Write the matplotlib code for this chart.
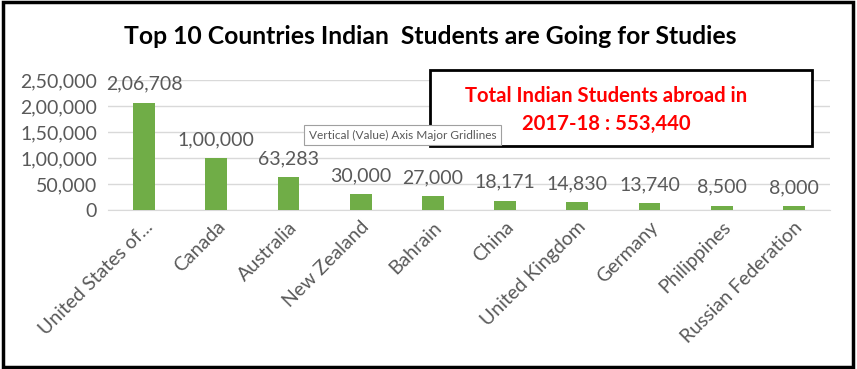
import matplotlib.pyplot as plt
from matplotlib.patches import Rectangle

# data
countries = ["United States of...", "Canada", "Australia", "New Zealand", "Bahrain",
             "China", "United Kingdom", "Germany", "Philippines", "Russian Federation"]
students = [206708, 100000, 63283, 30000, 27000, 18171, 14830, 13740, 8500, 8000]
yticks = [0, 50000, 100000, 150000, 200000, 250000]
total_text = "Total Indian Students abroad in\n2017-18 : 553,440"


def indian_fmt(n):
    # Indian digit grouping: 2,06,708
    s = str(int(n))
    if len(s) <= 3:
        return s
    head, tail = s[:-3], s[-3:]
    groups = []
    while len(head) > 2:
        groups.insert(0, head[-2:])
        head = head[:-2]
    if head:
        groups.insert(0, head)
    return ",".join(groups + [tail])


plt.rcParams['font.family'] = ['Lato', 'DejaVu Sans']
grey = '#595959'

fig = plt.figure(figsize=(8.57, 3.69), dpi=100)
ax = fig.add_axes([0.126, 0.4309, 0.8425, 0.3523])

x = range(len(countries))
ax.bar(x, students, width=0.3, color='#70ad47', zorder=3)
for xi, v in zip(x, students):
    ax.annotate(indian_fmt(v), (xi, v), xytext=(0, 7), textcoords='offset points',
                ha='center', va='bottom', fontsize=14, color=grey)

ax.set_xlim(-0.5, len(countries) - 0.5)
ax.set_ylim(0, 250000)
ax.set_yticks(yticks)
ax.set_yticklabels([indian_fmt(t) for t in yticks], fontsize=14, color=grey)
ax.set_xticks(list(x))
ax.set_xticklabels(countries, rotation=45, ha='right', rotation_mode='anchor',
                   fontsize=14, color=grey)
ax.tick_params(axis='y', length=0, pad=8)
ax.tick_params(axis='x', length=0, pad=6)
ax.grid(axis='y', color='#d9d9d9', linewidth=1, zorder=0)
for s in ['top', 'right', 'left']:
    ax.spines[s].set_visible(False)
ax.spines['bottom'].set_color('#d9d9d9')

fig.text(0.502, 0.9, "Top 10 Countries Indian  Students are Going for Studies",
         ha='center', va='center', fontsize=17.8, fontweight='bold', color='black')

# total box
fig.patches.append(Rectangle((430 / 857, 1 - 146 / 369), 382 / 857, 76 / 369,
                             transform=fig.transFigure, fill=True, facecolor='white',
                             edgecolor='black', linewidth=2, zorder=5))
fig.text(606 / 857, 1 - 110 / 369, total_text, ha='center', va='center',
         fontsize=14.6, fontweight='bold', color='#ff0000', linespacing=1.5, zorder=6)

# excel tooltip
fig.text(309 / 857, 1 - 135 / 369, "Vertical (Value) Axis Major Gridlines",
         ha='left', va='center', fontsize=8.6, color=grey, zorder=7,
         bbox=dict(boxstyle='square,pad=0.4', facecolor='white', edgecolor='#a0a0a0', linewidth=0.8))

# outer frame
fig.patches.append(Rectangle((0.003, 0.006), 0.992, 0.988, transform=fig.transFigure,
                             fill=False, edgecolor='black', linewidth=2.5))

fig.savefig('out.png', dpi=100)
